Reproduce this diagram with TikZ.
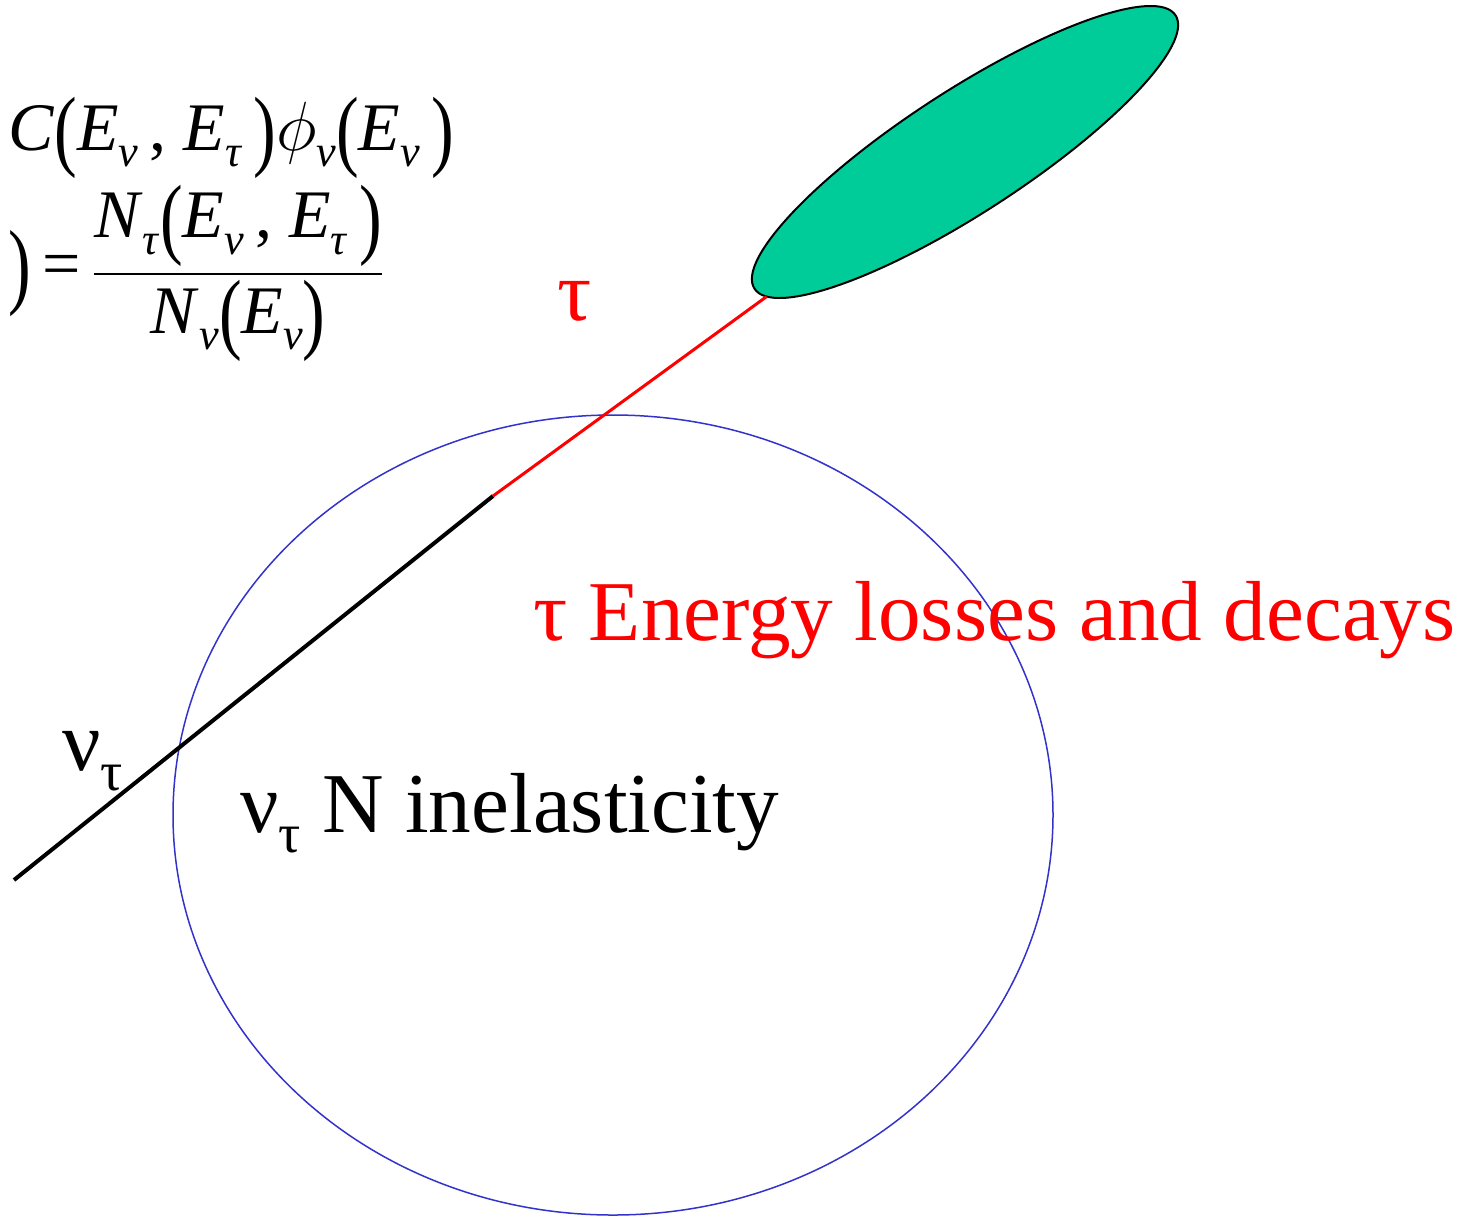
\documentclass[tikz,border=0pt]{standalone}
\usepackage{fontspec}
\setmainfont{Liberation Serif}
\usepackage{amsmath}
\usepackage{graphicx}
\usetikzlibrary{shapes.geometric}
\definecolor{bleu}{RGB}{51,51,204}
\definecolor{vert}{RGB}{0,204,153}
% Parentheses et indices (MODIFIABLES)
\newcommand{\parg}{\raisebox{-0.14em}{\scalebox{1}[1.32]{(}}}
\newcommand{\pard}{\raisebox{-0.14em}{\scalebox{1}[1.32]{)}}}
\newcommand{\ind}[1]{\raisebox{-0.24em}{\scalebox{0.65}{#1}}}
\begin{document}
\begin{tikzpicture}[x=0.5pt,y=-0.5pt]
			% Cadre
			\useasboundingbox (0,0) rectangle (1476,1217);
			% Styles (MODIFIABLES)
			\tikzstyle{neutrino}=[line width=2pt,black]
			\tikzstyle{lepton}=[line width=1.5pt,red]
			\tikzstyle{cible}=[ellipse,draw=bleu,line width=0.75pt,inner sep=0pt,outer sep=0pt,minimum width=440pt,minimum height=400pt]
			\tikzstyle{gerbe}=[ellipse,draw=black,fill=vert,line width=1pt,inner sep=0pt,outer sep=0pt,minimum width=251pt,minimum height=61pt,rotate=33]
			\tikzstyle{grand}=[inner sep=0pt,anchor=base west,font=\fontsize{42.6}{50}\selectfont]
			\tikzstyle{formule}=[inner sep=0pt,anchor=base west,font=\fontsize{34}{40}\selectfont]
			% Noeuds (MODIFIABLES)
			\node[cible] (cible) at (613,815) {};
			\node[gerbe] (gerbe) at (965,152) {};
			\coordinate (entree) at (14,880);
			\coordinate (vertex) at (493,496);
			% Arcs
			\draw[neutrino] (entree)--(vertex);
			\draw[lepton] (vertex)--(gerbe);
			% Etiquettes
			\node[grand,red] (tau) at (557,320) {τ};
			\node[grand,red] (pertes) at (533,640) {τ Energy losses and decays};
			\node[grand] (nutau) at (62,770) {ν\ind{τ}};
			\node[grand] (inel) at (240,832) {ν\ind{τ} N inelasticity};
			% Formule
			\node[formule] (ligneA) at (8,150) {\textit{C}\parg\textit{E}\ind{\textit{ν}}\,, \textit{E}\ind{\textit{τ}}\,\pard\scalebox{1.4}{$\phi$}\ind{\textit{ν}}\parg\textit{E}\ind{\textit{ν}}\,\pard};
			\node[formule] (ligneB) at (8,286) {\raisebox{-0.16em}{\scalebox{1}[1.4]{)}}\,=\,$\dfrac{\text{\textit{N}\ind{\textit{τ}}\parg\textit{E}\ind{\textit{ν}}\,, \textit{E}\ind{\textit{τ}}\,\pard}}{\text{\textit{N}\ind{\textit{ν}}\parg\textit{E}\ind{\textit{ν}}\pard}}$};
		\end{tikzpicture}
\end{document}
